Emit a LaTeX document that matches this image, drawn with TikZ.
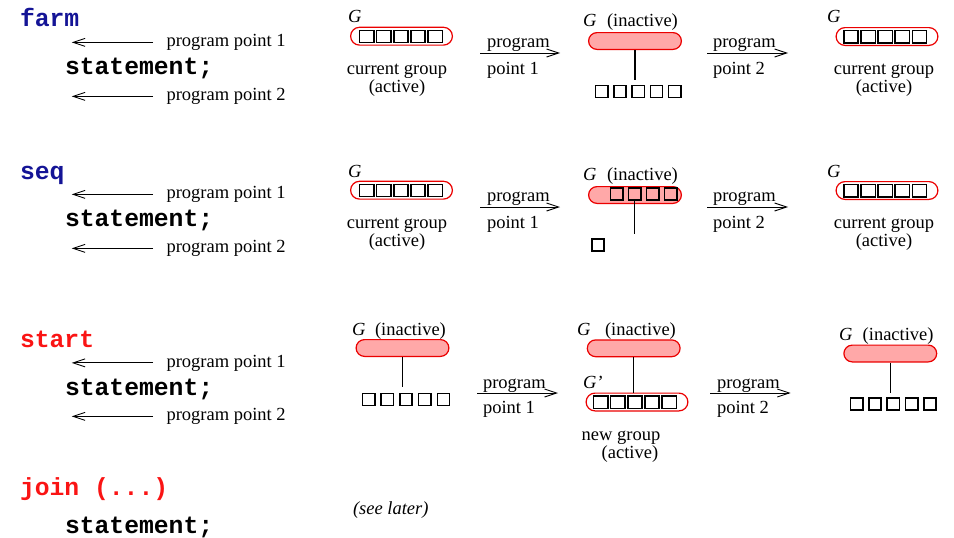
\documentclass[tikz,border=0pt]{standalone}
\usepackage{fontspec}
\setmainfont{Liberation Serif}
\setmonofont{Liberation Mono}
\usetikzlibrary{arrows.meta,shapes.misc}

\definecolor{kwblue}{RGB}{20,20,150}
\definecolor{kwred}{RGB}{250,20,20}
\definecolor{grpred}{RGB}{235,0,0}
\definecolor{grpfill}{RGB}{255,168,168}

\tikzset{
  kw/.style={font=\fontsize{24.7}{28}\selectfont\ttfamily\bfseries, inner sep=0pt, outer sep=0pt, anchor=base west},
  txt/.style={font=\fontsize{18.5}{21}\selectfont, inner sep=0pt, outer sep=0pt, anchor=base west},
  ppl/.style={txt, inner xsep=13.5pt},
  tr/.style={line width=0.9pt, -{Straight Barb[length=12pt,width=8pt,line width=0.9pt]}},
  grp/.style={rounded rectangle, draw=grpred, line width=1.2pt, minimum width=101.8pt, minimum height=17.8pt, inner sep=0pt},
  grpoff/.style={grp, fill=grpfill, minimum width=92.8pt, minimum height=16.8pt},
  elt/.style={draw, line width=1.5pt, minimum width=12.3pt, minimum height=12.3pt, inner sep=0pt},
  eltin/.style={elt, minimum width=14.3pt},
  stem/.style={line width=1.1pt},
}

\begin{document}
\begin{tikzpicture}[x=1pt,y=-1pt]
  \useasboundingbox (0,0) rectangle (954,538);

  %left column: farm
  \node[kw, text=kwblue] (farm) at (20,27) {farm};
  \node[ppl] (pp11) at (153,46.5) {program point 1};
  \coordinate (t11) at (71.7,41);
  \draw[tr] (pp11.west) -- (pp11.west -| t11);
  \node[kw] (st1) at (65,74) {statement;};
  \node[ppl] (pp12) at (153,100.5) {program point 2};
  \coordinate (t12) at (71.7,95);
  \draw[tr] (pp12.west) -- (pp12.west -| t12);

  %left column: seq
  \node[kw, text=kwblue] (seq) at (20,179) {seq};
  \node[ppl] (pp21) at (153,198.5) {program point 1};
  \coordinate (t21) at (71.7,193);
  \draw[tr] (pp21.west) -- (pp21.west -| t21);
  \node[kw] (st2) at (65,226) {statement;};
  \node[ppl] (pp22) at (153,252.5) {program point 2};
  \coordinate (t22) at (71.7,247);
  \draw[tr] (pp22.west) -- (pp22.west -| t22);

  %left column: start
  \node[kw, text=kwred] (start) at (20,347) {start};
  \node[ppl] (pp31) at (153,367) {program point 1};
  \coordinate (t31) at (71.7,362);
  \draw[tr] (pp31.west) -- (pp31.west -| t31);
  \node[kw] (st3) at (65,395) {statement;};
  \node[ppl] (pp32) at (153,420.5) {program point 2};
  \coordinate (t32) at (71.7,415);
  \draw[tr] (pp32.west) -- (pp32.west -| t32);

  %left column: join
  \node[kw, text=kwred] (join) at (20,495) {join (...)};
  \node[kw] (st4) at (65,533) {statement;};
  \node[txt, font=\fontsize{18.5}{21}\selectfont\itshape] (later) at (353,514) {(see later)};

  %farm: before
  \node[txt] (gl11) at (348,23) {\textit{G}};
  \node[grp] (g11) at (401.5,36.2) {};
  \foreach \i in {1,...,5}
    \node[eltin] (e11-\i) at ({359+7.75+(\i-1)*17.1},36.5) {};
  \node[txt, anchor=base] (cg11) at (397,74) {current group};
  \node[txt, anchor=base] (ac11) at (397,92) {(active)};

  \coordinate (s11) at (480,53);
  \coordinate (s12) at (560,53);
  \draw[tr] (s11) -- (s12);
  \node[txt] (pr11) at (487,47) {program};
  \node[txt] (pt11) at (487,74) {point 1};

  %farm: inside
  \node[txt] (gl12) at (583,26.5) {\textit{G}};
  \node[txt] (in12) at (607,26.5) {(inactive)};
  \node[grpoff] (g12) at (635,41) {};
  \foreach \i in {1,...,5}
    \node[elt] (e12-\i) at ({595+6.65+(\i-1)*18.3},91.5) {};
  \draw[stem, shorten >=5pt] (g12.south) -- (g12.south |- e12-3.north);

  \coordinate (s13) at (707,53);
  \coordinate (s14) at (788,53);
  \draw[tr] (s13) -- (s14);
  \node[txt] (pr12) at (713,47) {program};
  \node[txt] (pt12) at (713,74) {point 2};

  %farm: after
  \node[txt] (gl13) at (827,23) {\textit{G}};
  \node[grp] (g13) at (887,36.5) {};
  \foreach \i in {1,...,5}
    \node[eltin] (e13-\i) at ({843.3+7.75+(\i-1)*17.1},36.8) {};
  \node[txt, anchor=base] (cg13) at (884,74) {current group};
  \node[txt, anchor=base] (ac13) at (884,92) {(active)};

  %seq: before
  \node[txt] (gl21) at (348,177) {\textit{G}};
  \node[grp] (g21) at (401.5,190.2) {};
  \foreach \i in {1,...,5}
    \node[eltin] (e21-\i) at ({359+7.75+(\i-1)*17.1},190.5) {};
  \node[txt, anchor=base] (cg21) at (397,228) {current group};
  \node[txt, anchor=base] (ac21) at (397,246) {(active)};

  \coordinate (s21) at (480,207);
  \coordinate (s22) at (560,207);
  \draw[tr] (s21) -- (s22);
  \node[txt] (pr21) at (487,201) {program};
  \node[txt] (pt21) at (487,228) {point 1};

  %seq: inside
  \node[txt] (gl22) at (583,180.5) {\textit{G}};
  \node[txt] (in22) at (607,180.5) {(inactive)};
  \node[grpoff] (g22) at (635,195) {};
  \foreach \i in {1,...,4}
    \node[elt] (e22-\i) at ({610+6.75+(\i-1)*18},194) {};
  \node[elt] (e22s) at (598,245) {};
  \draw[stem, shorten >=4pt] (e22-2.south) -- (e22-2.south |- e22s.north);

  \coordinate (s23) at (707,207);
  \coordinate (s24) at (788,207);
  \draw[tr] (s23) -- (s24);
  \node[txt] (pr22) at (713,201) {program};
  \node[txt] (pt22) at (713,228) {point 2};

  %seq: after
  \node[txt] (gl23) at (827,177) {\textit{G}};
  \node[grp] (g23) at (887,190.5) {};
  \foreach \i in {1,...,5}
    \node[eltin] (e23-\i) at ({843.3+7.75+(\i-1)*17.1},190.8) {};
  \node[txt, anchor=base] (cg23) at (884,228) {current group};
  \node[txt, anchor=base] (ac23) at (884,246) {(active)};

  %start: before
  \node[txt] (gl31) at (352,335) {\textit{G}};
  \node[txt] (in31) at (375,335) {(inactive)};
  \node[grpoff] (g31) at (402.5,348) {};
  \foreach \i in {1,...,5}
    \node[elt] (e31-\i) at ({362+6.65+(\i-1)*18.7},399.5) {};
  \draw[stem, shorten >=6pt] (g31.south) -- (g31.south |- e31-3.north);

  \coordinate (s31) at (477,393);
  \coordinate (s32) at (558,393);
  \draw[tr] (s31) -- (s32);
  \node[txt] (pr31) at (483,388) {program};
  \node[txt] (pt31) at (483,413) {point 1};

  %start: inside
  \node[txt] (gl32) at (577,335) {\textit{G}};
  \node[txt] (in32) at (605,335) {(inactive)};
  \node[grpoff] (g32) at (633.7,348.3) {};
  \node[txt] (gp32) at (583,388) {\textit{G’}};
  \node[grp] (g32n) at (637,402) {};
  \foreach \i in {1,...,5}
    \node[eltin] (e32-\i) at ({593+7.75+(\i-1)*17.1},402.3) {};
  \draw[stem] (g32.south) -- (g32.south |- g32n.north);
  \node[txt] (ng32) at (581.7,440) {new group};
  \node[txt] (ac32) at (601.7,458) {(active)};

  \coordinate (s33) at (710,393);
  \coordinate (s34) at (790.7,393);
  \draw[tr] (s33) -- (s34);
  \node[txt] (pr32) at (717,388) {program};
  \node[txt] (pt32) at (717,413) {point 2};

  %start: after
  \node[txt] (gl33) at (839,340) {\textit{G}};
  \node[txt] (in33) at (862.7,340) {(inactive)};
  \node[grpoff] (g33) at (890.3,353.5) {};
  \foreach \i in {1,...,5}
    \node[elt] (e33-\i) at ({850+6.65+(\i-1)*18.35},404) {};
  \draw[stem, shorten >=4.5pt] (g33.south) -- (g33.south |- e33-3.north);
\end{tikzpicture}
\end{document}
